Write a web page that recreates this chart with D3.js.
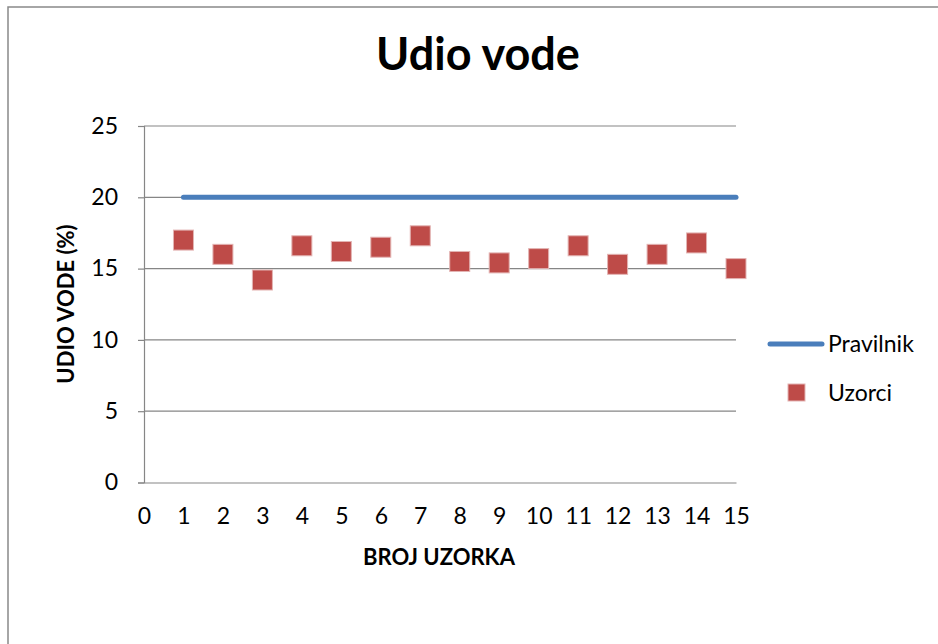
<!DOCTYPE html>
<html><head><meta charset="utf-8">
<script src="https://cdn.jsdelivr.net/npm/d3@7"></script>
<style>body{margin:0;background:#fff}svg{display:block}text{font-family:Lato,"Open Sans",sans-serif}</style>
</head><body>
<svg id="c" width="938" height="644"></svg>
<script>
const title = "Udio vode";
const xTitle = "BROJ UZORKA";
const yTitle = "UDIO VODE (%)";
const samples = [1,2,3,4,5,6,7,8,9,10,11,12,13,14,15];
const uzorci = [17.0,16.0,14.2,16.6,16.2,16.5,17.3,15.5,15.4,15.7,16.6,15.3,16.0,16.8,15.0];
const pravilnik = [20,20,20,20,20,20,20,20,20,20,20,20,20,20,20];
const xTicks = [0,1,2,3,4,5,6,7,8,9,10,11,12,13,14,15];
const yTicks = [0,5,10,15,20,25];
const seriesNames = ["Pravilnik","Uzorci"];

const svg = d3.select("#c");
svg.append("rect").attr("x",8).attr("y",7).attr("width",960).attr("height",700)
  .attr("fill","#fff").attr("stroke","#898989").attr("stroke-width",1.5);

const x = d3.scaleLinear().domain([0,15]).range([144,736]);
const y = d3.scaleLinear().domain([0,25]).range([482.5,126]);

// gridlines
svg.append("g").selectAll("line").data(yTicks.filter(d=>d>0)).join("line")
  .attr("x1",x(0)).attr("x2",x(15)).attr("y1",d=>y(d)).attr("y2",d=>y(d))
  .attr("stroke","#868686").attr("stroke-width",1.2);

// y axis
const ya = svg.append("g").attr("transform",`translate(${x(0)},0)`)
  .call(d3.axisLeft(y).tickValues(yTicks).tickSize(6).tickPadding(20));
ya.select(".domain").attr("stroke","#868686").attr("stroke-width",1.2);
ya.selectAll(".tick line").attr("stroke","#868686").attr("stroke-width",1.2);
ya.selectAll("text").attr("font-size",23).attr("fill","#000").style("font-family","Lato,'Open Sans',sans-serif");

// x axis
const xa = svg.append("g").attr("transform",`translate(0,${y(0)})`)
  .call(d3.axisBottom(x).tickValues(xTicks).tickSize(0).tickPadding(25));
xa.select(".domain").attr("stroke","#868686").attr("stroke-width",1.2);
xa.selectAll("text").attr("font-size",23).attr("fill","#000").style("font-family","Lato,'Open Sans',sans-serif");

// Pravilnik line
const line = d3.line().x((d,i)=>x(samples[i])).y(d=>y(d));
svg.append("path").datum(pravilnik).attr("d",line).attr("fill","none")
  .attr("stroke","#4a7ebb").attr("stroke-width",5).attr("stroke-linecap","round");

// Uzorci markers
const ms = 20;
svg.append("g").selectAll("rect").data(uzorci).join("rect")
  .attr("x",(d,i)=>x(samples[i])-ms/2).attr("y",d=>y(d)-ms/2)
  .attr("width",ms).attr("height",ms)
  .attr("fill","#be4b48").attr("stroke","#e3b4b3").attr("stroke-width",1);

// titles
svg.append("text").attr("x",478).attr("y",70).attr("text-anchor","middle")
  .attr("font-size",45).attr("font-weight","bold").text(title);
svg.append("text").attr("x",439).attr("y",565).attr("text-anchor","middle")
  .attr("font-size",22).attr("font-weight","bold").text(xTitle);
svg.append("text").attr("transform","translate(74,304) rotate(-90)").attr("text-anchor","middle")
  .attr("font-size",22).attr("font-weight","bold").text(yTitle);

// legend
const lg = svg.append("g");
lg.append("line").attr("x1",770).attr("x2",822).attr("y1",344).attr("y2",344)
  .attr("stroke","#4a7ebb").attr("stroke-width",5).attr("stroke-linecap","round");
lg.append("text").attr("x",828).attr("y",352).attr("font-size",23).text(seriesNames[0]);
lg.append("rect").attr("x",788).attr("y",384).attr("width",17).attr("height",17)
  .attr("fill","#be4b48").attr("stroke","#e3b4b3").attr("stroke-width",1);
lg.append("text").attr("x",828).attr("y",401).attr("font-size",23).text(seriesNames[1]);
</script>
</body></html>
